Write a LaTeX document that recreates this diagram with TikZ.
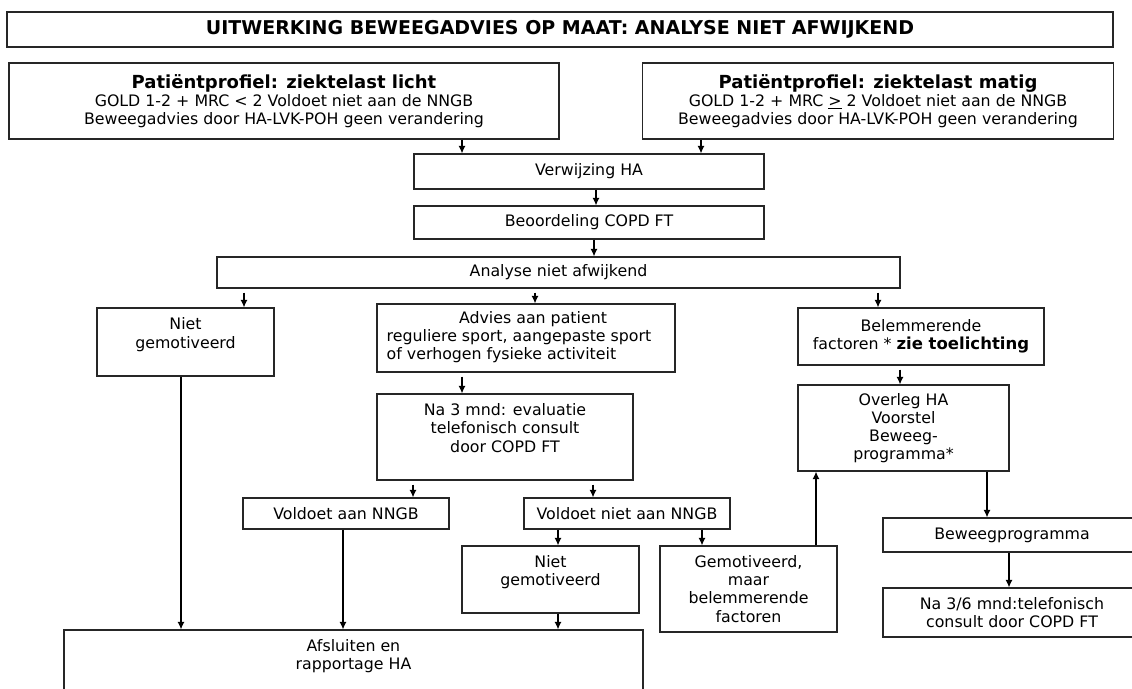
\documentclass[tikz,border=0pt]{standalone}
\usepackage{fontspec}
\setmainfont{DejaVu Sans}
\usetikzlibrary{arrows.meta}
\newcommand{\kop}[1]{{\fontsize{18}{21}\selectfont\bfseries #1}}

\begin{document}
\begin{tikzpicture}[x=1pt,y=-1pt]
                \tikzstyle{every node}+=[inner sep=0pt]
                \tikzstyle{box}=[draw=black!85, line width=1.2pt, align=center, font=\fontsize{15.8}{18.2}\selectfont]
                \tikzstyle{arr}=[black, line width=1.2pt, -{Latex[length=7.5pt,width=7pt]}]
                \tikzstyle{gap}=[shorten <=4pt]
                \useasboundingbox (0,0) rectangle (1132,688);
                \clip (0,0) rectangle (1132,688);
                \fill [white] (0,0) rectangle (1132,688);
                \node [box, minimum width=1106, minimum height=35] (titel) at (560,29.5) {{\fontsize{19}{21}\selectfont\bfseries UITWERKING BEWEEGADVIES OP MAAT: ANALYSE NIET AFWIJKEND}};
                \node [box, minimum width=550, minimum height=76] (licht) at (284,101) {\kop{Patiëntprofiel: ziektelast licht}\\GOLD 1-2 + MRC < 2 Voldoet niet aan de NNGB\\Beweegadvies door HA-LVK-POH geen verandering};
                \node [box, minimum width=471, minimum height=76] (matig) at (878,101) {\kop{Patiëntprofiel: ziektelast matig}\\GOLD 1-2 + MRC \underline{>} 2 Voldoet niet aan de NNGB\\Beweegadvies door HA-LVK-POH geen verandering};
                \node [box, minimum width=350, minimum height=35] (verwijzing) at (589,171.5) {Verwijzing HA};
                \node [box, minimum width=350, minimum height=33] (beoordeling) at (589,222.5) {Beoordeling COPD FT};
                \node [box, minimum width=683, minimum height=31] (analyse) at (558.5,272.5) {Analyse niet afwijkend};
                \node [box, minimum width=177, minimum height=68] (nietgem1) at (185.5,342) {Niet\\gemotiveerd\\\mbox{}};
                \node [box, minimum width=298, minimum height=68] (advies) at (526,338) {\begin{tabular}{@{}l@{\hspace{14pt}}}\multicolumn{1}{@{}c@{}}{\hspace{14pt}Advies aan patient}\\reguliere sport, aangepaste sport\\of verhogen fysieke activiteit\end{tabular}};
                \node [box, minimum width=246, minimum height=57] (belemmer) at (921,336.5) {Belemmerende\\factoren * {\fontsize{16.5}{21}\selectfont\bfseries zie toelichting}};
                \node [box, minimum width=256, minimum height=86] (evaluatie) at (505,437) {Na 3 mnd: evaluatie\\telefonisch consult\\door COPD FT\\\mbox{}};
                \node [box, minimum width=211, minimum height=86] (overleg) at (903.5,428) {Overleg HA\\Voorstel\\Beweeg-\\programma*};
                \node [box, minimum width=206, minimum height=31] (voldoet) at (346,513.5) {Voldoet aan NNGB};
                \node [box, minimum width=206, minimum height=31] (voldoetniet) at (627,513.5) {Voldoet niet aan NNGB};
                \node [box, minimum width=177, minimum height=67] (nietgem2) at (550.5,579.5) {Niet\\gemotiveerd\\\mbox{}};
                \node [box, minimum width=177, minimum height=86] (gemotiveerd) at (748.5,589) {Gemotiveerd,\\maar\\belemmerende\\factoren};
                \node [box, minimum width=258, minimum height=34] (programma) at (1012,535) {Beweegprogramma};
                \node [box, minimum width=258, minimum height=49] (consult) at (1012,612.5) {Na 3/6 mnd:telefonisch\\consult door COPD FT};
                \node [box, minimum width=579, minimum height=86] (afsluiten) at (353.5,673) {Afsluiten en\\rapportage HA\\\mbox{}\\\mbox{}};
                \draw [arr] (licht.south -| 462,0) -- (verwijzing.north -| 462,0);
                \draw [arr] (matig.south -| 701,0) -- (verwijzing.north -| 701,0);
                \draw [arr] (verwijzing.south -| 596,0) -- (beoordeling.north -| 596,0);
                \draw [arr] (beoordeling.south -| 594,0) -- (analyse.north -| 594,0);
                \draw [arr, gap] (analyse.south -| 244,0) -- (nietgem1.north -| 244,0);
                \draw [arr, gap] (analyse.south -| 535,0) -- (advies.north -| 535,0);
                \draw [arr, gap] (analyse.south -| 878,0) -- (belemmer.north -| 878,0);
                \draw [arr, gap] (advies.south -| 462,0) -- (evaluatie.north -| 462,0);
                \draw [arr, gap] (belemmer.south -| 900,0) -- (overleg.north -| 900,0);
                \draw [arr, gap] (evaluatie.south -| 413,0) -- (voldoet.north -| 413,0);
                \draw [arr, gap] (evaluatie.south -| 593,0) -- (voldoetniet.north -| 593,0);
                \draw [arr] (nietgem1.south -| 181,0) -- (afsluiten.north -| 181,0);
                \draw [arr] (voldoet.south -| 343,0) -- (afsluiten.north -| 343,0);
                \draw [arr] (voldoetniet.south -| 558,0) -- (nietgem2.north -| 558,0);
                \draw [arr] (nietgem2.south -| 558,0) -- (afsluiten.north -| 558,0);
                \draw [arr] (voldoetniet.south -| 702,0) -- (gemotiveerd.north -| 702,0);
                \draw [arr] (gemotiveerd.north -| 816,0) -- (overleg.south -| 816,0);
                \draw [arr] (overleg.south -| 987,0) -- (programma.north -| 987,0);
                \draw [arr] (programma.south -| 1009,0) -- (consult.north -| 1009,0);
\end{tikzpicture}
\end{document}
